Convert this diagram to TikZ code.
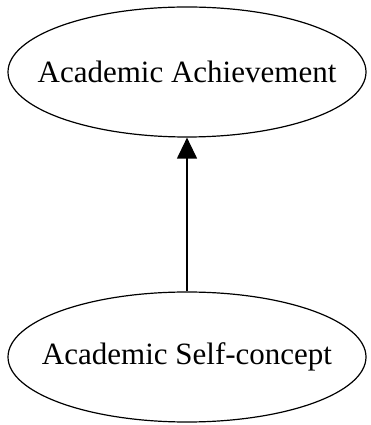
\documentclass[tikz,border=0pt]{standalone}
\usepackage{fontspec}
\setmainfont{Liberation Serif}
\usetikzlibrary{shapes.geometric,arrows.meta}
\begin{document}
\begin{tikzpicture}[x=1pt,y=1pt,
  var/.style={ellipse,draw,line width=1.2pt,minimum width=358pt,minimum height=130pt,inner sep=0pt},
  lbl/.style={inner sep=0pt,font=\fontsize{31}{36}\selectfont},
  link/.style={line width=1.2pt,-{Triangle[length=21pt,width=20pt]}}]
\useasboundingbox (0,0) rectangle (371,425);
\node[var] (ach) at (187,353) {};
\node[lbl] (achT) at (ach) {Academic Achievement};
\node[var] (self) at (187,68) {};
\node[lbl] (selfT) at (self) {Academic Self-concept};
\draw[link] (self) -- (ach);
\end{tikzpicture}
\end{document}
